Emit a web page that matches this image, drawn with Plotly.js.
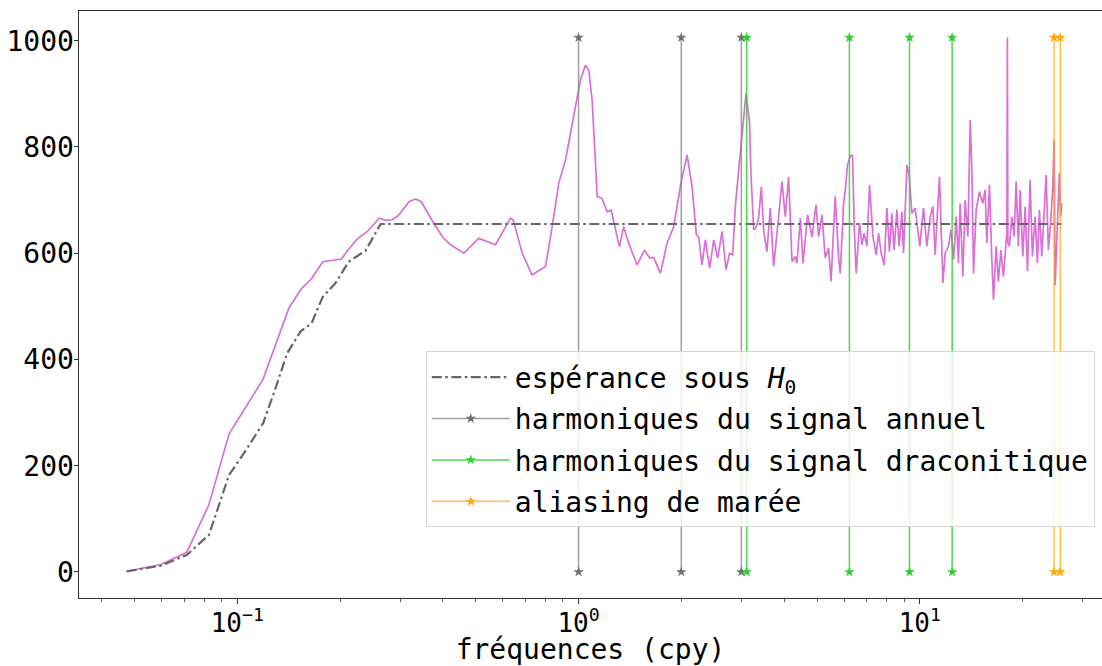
<!DOCTYPE html>
<html>
<head>
<meta charset="utf-8">
<script src="https://cdn.plot.ly/plotly-3.0.1.min.js"></script>
<style>html,body{margin:0;padding:0;background:#fff;}#chart{width:1102px;height:666px;}</style>
</head>
<body>
<div id="chart"></div>
<script>
// Spectrum (fréquences in cpy, puissance)
const freqs = [0.0474,0.0597,0.0711,0.0826,0.0946,0.119,0.1417,0.1544,0.165,0.178,0.2018,0.211,0.2248,0.2405,0.2606,0.272,0.2845,0.2963,0.3185,0.3327,0.346,0.3766,0.399,0.4217,0.461,0.510,0.571,0.632,0.643,0.684,0.731,0.774,0.80,0.837,0.875,0.916,0.958,1.013,1.047,1.071,1.096,1.134,1.172,1.213,1.246,1.318,1.356,1.403,1.484,1.56,1.616,1.66,1.738,1.817,1.90,1.996,2.08,2.151,2.214,2.249,2.30,2.353,2.422,2.49,2.557,2.634,2.704,2.772,2.829,2.88,2.978,3.096,3.17,3.2,3.26,3.32,3.37,3.433,3.486,3.565,3.646,3.73,3.815,3.946,4.035,4.126,4.222,4.316,4.365,4.467,4.548,4.69,4.83,4.965,5.05,5.17,5.284,5.403,5.495,5.65,5.78,5.846,5.98,6.05,6.14,6.25,6.35,6.43,6.51,6.66,6.77,6.87,7.0,7.125,7.29,7.45,7.57,7.71,7.865,8.01,8.15,8.28,8.41,8.57,8.70,8.86,8.96,9.17,9.31,9.48,9.69,9.85,10.0,10.25,10.49,10.73,10.92,11.09,11.42,11.69,11.87,12.14,12.34,12.56,12.79,12.98,13.13,13.37,13.58,13.83,14.05,14.21,14.37,14.63,14.96,15.3,15.54,15.72,16.0,16.26,16.44,16.74,17.0,17.28,17.58,18.0,18.06,18.12,18.31,18.61,18.9,19.16,19.45,19.68,20.04,20.36,20.68,21.05,21.38,21.78,22.12,22.41,22.78,23.13,23.45,23.82,24.2,24.53,24.75,24.92,25.2,25.47,25.65,25.88,26.06];
const power = [1,14,37,127,260,363,497,534,552,584,589,606,627,641,666,662,663,671,697,702,697,656,631,616,600,628,616,666,663,600,559,569,575,650,732,776,845,926,954,945,888,707,703,678,681,612,650,619,578,606,591,592,562,619,650,732,785,725,635,631,578,625,572,625,591,641,569,600,597,688,788,901,845,750,644,650,666,725,644,603,685,575,638,735,669,744,584,594,581,666,581,672,631,691,631,672,591,610,547,707,594,562,694,719,766,782,785,644,562,657,616,638,613,729,631,597,638,600,578,685,603,675,606,682,613,678,600,766,747,675,685,644,613,685,613,669,688,597,744,544,600,613,644,588,669,581,694,556,700,631,851,757,562,682,716,694,719,619,729,588,512,613,547,606,556,640,1006,620,613,669,631,735,613,719,594,688,566,738,594,669,581,682,594,675,747,606,660,725,813,540,619,669,751,669,694];

// Expectation under H0
const h0Freqs = [0.0474,0.0597,0.0711,0.0826,0.0946,0.1047,0.119,0.128,0.140,0.1533,0.165,0.178,0.194,0.212,0.2376,0.263,26.06];
const h0Values = [1,12,32,70,183,224,280,337,412,453,468,518,544,584,605,655,655];

// Harmonic frequencies
const annualHarmonics = [1, 2, 3];
const draconiticHarmonics = [3.11, 6.22, 9.33, 12.44];
const tidalAliasing = [24.75, 25.8];

const labels = {
  h0: 'espérance sous <i>H</i><sub>0</sub>',
  annual: 'harmoniques du signal annuel',
  dracon: 'harmoniques du signal draconitique',
  tidal: 'aliasing de marée',
  xTitle: 'fréquences (cpy)'
};
const xTickVals = [0.1, 1, 10];
const xTickText = ['10<sup>−1</sup>', '10<sup>0</sup>', '10<sup>1</sup>'];
const xMinorTicks = [0.04,0.05,0.06,0.07,0.08,0.09,0.2,0.3,0.4,0.5,0.6,0.7,0.8,0.9,2,3,4,5,6,7,8,9,20,30];

const yMax = Math.max(...power);
function vlines(fs) {
  const x = [], y = [];
  fs.forEach(f => { x.push(f, f, null); y.push(0, yMax, null); });
  return {x, y};
}

const FONT = '"DejaVu Sans Mono", monospace';
const traces = [];
traces.push({
  x: freqs, y: power, type: 'scatter', mode: 'lines',
  line: {color: '#DA70D6', width: 1.7}, showlegend: false, hoverinfo: 'skip'
});
traces.push({
  x: h0Freqs, y: h0Values, type: 'scatter', mode: 'lines', name: labels.h0,
  line: {color: '#666666', width: 2.2, dash: '10px,3.5px,2.5px,3.5px'},
  legendgroup: 'a', legendrank: 1
});
function harmTrace(fs, name, lineColor, markerColor, grp, rank) {
  const v = vlines(fs);
  return {
    x: v.x, y: v.y, type: 'scatter', mode: 'lines+markers', name: name,
    line: {color: lineColor, width: 1.5},
    marker: {symbol: 'star', size: 8, color: markerColor, line: {width: 0}},
    legendgroup: grp, legendrank: rank, connectgaps: false
  };
}
traces.push(harmTrace(annualHarmonics, labels.annual, 'rgba(128,128,128,0.75)', 'rgba(100,100,100,0.9)', 'b', 2));
traces.push(harmTrace(draconiticHarmonics, labels.dracon, 'rgba(50,205,50,0.85)', 'rgba(50,205,50,1)', 'c', 3));
traces.push(harmTrace(tidalAliasing, labels.tidal, 'rgba(255,165,0,0.7)', 'rgba(255,165,0,0.95)', 'd', 4));

const layout = {
  width: 1102, height: 666,
  margin: {l: 79, r: 0, t: 11, b: 68, pad: 0},
  paper_bgcolor: '#fff', plot_bgcolor: '#fff',
  font: {family: FONT, size: 28, color: '#000'},
  showlegend: true,
  xaxis: {
    type: 'log', range: [-1.464, 1.534],
    showgrid: false, zeroline: false,
    showline: true, linecolor: '#333', linewidth: 1, mirror: true,
    ticks: 'outside', ticklen: 4.5, tickcolor: '#333', tickwidth: 1,
    tickmode: 'array', tickvals: xTickVals, ticktext: xTickText,
    tickfont: {family: FONT, size: 26},
    ticklabelstandoff: -3,
    minor: {ticks: 'outside', ticklen: 2.5, tickcolor: '#333', tickwidth: 0.8, showgrid: false,
            tickmode: 'array', tickvals: xMinorTicks},
    title: {text: labels.xTitle, font: {family: FONT, size: 28}, standoff: 10}
  },
  yaxis: {
    range: [-49, 1056],
    showgrid: false, zeroline: false,
    showline: true, linecolor: '#333', linewidth: 1,
    ticks: 'outside', ticklen: 4.5, tickcolor: '#333',
    tickmode: 'linear', tick0: 0, dtick: 200,
    ticklabelstandoff: -6,
    tickfont: {family: FONT, size: 28}
  },
  legend: {
    x: 0.339, y: 0.42, xanchor: 'left', yanchor: 'top',
    bgcolor: 'rgba(255,255,255,0.8)', bordercolor: '#d5d5d5', borderwidth: 1,
    font: {family: FONT, size: 28, color: '#000'},
    itemwidth: 78,
    traceorder: 'grouped', tracegroupgap: 2
  }
};

Plotly.newPlot('chart', traces, layout, {displayModeBar: false, staticPlot: true});
</script>
</body>
</html>
